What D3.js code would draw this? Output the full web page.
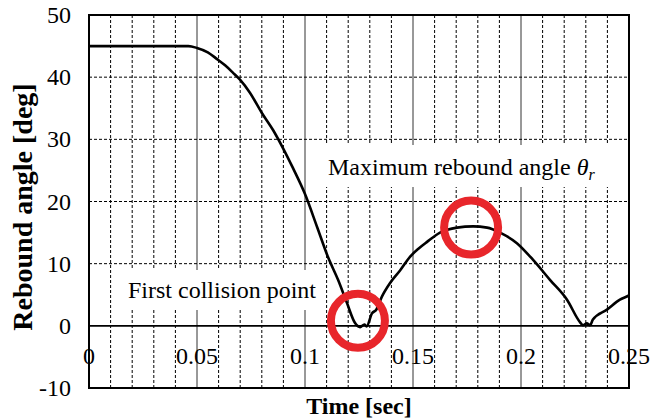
<!DOCTYPE html>
<html>
<head>
<meta charset="utf-8">
<script src="https://cdn.jsdelivr.net/npm/d3@7"></script>
<style>
  body { margin: 0; background: #fff; }
  svg text { font-family: "Liberation Serif", "Times New Roman", serif; }
</style>
</head>
<body>
<div id="main"></div>
<script>
var ctx = {
    w: 651,
    h: 419,
    left: 89,
    right: 629,
    top: 15,
    bottom: 388
};

// time [sec] and rebound angle [deg]
var times = [0, 0.02, 0.038, 0.042, 0.046, 0.050, 0.0550, 0.0593, 0.0630, 0.0667, 0.0699, 0.0745,
             0.0801, 0.0852, 0.0898, 0.0944, 0.1000, 0.1056, 0.1106, 0.1153,
             0.1194, 0.1231, 0.1255, 0.1275, 0.1285, 0.1310, 0.1330, 0.1356, 0.1394,
             0.1440, 0.1486, 0.1525, 0.1565, 0.1625, 0.1704, 0.1778, 0.1843, 0.1903,
             0.1981, 0.2056, 0.2134, 0.2213, 0.2273, 0.2287, 0.2305, 0.2319, 0.2333,
             0.2398, 0.2458, 0.2495, 0.2500];
var angles = [45, 45, 45, 45.0, 45.0, 44.7, 44.0, 42.9, 41.9, 40.7, 39.6, 37.5,
              34.2, 31.5, 28.6, 25.4, 21.2, 15.9, 11.1, 7.4,
              3.7, 0.5, -0.2, 0.2, -0.1, 2.0, 2.6, 4.7, 6.9,
              8.9, 11.1, 12.4, 13.5, 15.0, 15.8, 16.0, 15.8, 15.0,
              13.3, 10.6, 7.4, 4.2, 0.6, 0.1, 0.4, 0.1, 1.0,
              2.6, 4.2, 4.8, 4.9];

var xTicks = [0, 0.05, 0.1, 0.15, 0.2, 0.25];
var xTickLabels = ["0", "0.05", "0.1", "0.15", "0.2", "0.25"];
var yTicks = [-10, 0, 10, 20, 30, 40, 50];
var minorX = d3.range(1, 25).map(function(i){ return i / 100; });

// marked points: first collision and maximum rebound angle
var markT = [0.1245, 0.1769];
var markA = [0.8, 15.8];

var x = d3.scaleLinear().domain([0, 0.25]).range([ctx.left, ctx.right]);
var y = d3.scaleLinear().domain([-10, 50]).range([ctx.bottom, ctx.top]);

var svg = d3.select("#main").append("svg")
    .attr("width", ctx.w)
    .attr("height", ctx.h);

// dashed minor verticals
svg.append("g").selectAll("line")
    .data(minorX.filter(function(d){ return Math.round(d * 100) % 5 != 0; }))
    .enter().append("line")
    .attr("x1", function(d){ return x(d); })
    .attr("x2", function(d){ return x(d); })
    .attr("y1", ctx.top).attr("y2", ctx.bottom)
    .style("stroke", "#000").style("stroke-width", 1)
    .style("stroke-dasharray", "3,2");

// solid major verticals
svg.append("g").selectAll("line")
    .data([0.05, 0.1, 0.15, 0.2])
    .enter().append("line")
    .attr("x1", function(d){ return x(d); })
    .attr("x2", function(d){ return x(d); })
    .attr("y1", ctx.top).attr("y2", ctx.bottom)
    .style("stroke", "#333").style("stroke-width", 1);

// dashed horizontals
svg.append("g").selectAll("line")
    .data([10, 20, 30, 40])
    .enter().append("line")
    .attr("x1", ctx.left).attr("x2", ctx.right)
    .attr("y1", function(d){ return y(d); })
    .attr("y2", function(d){ return y(d); })
    .style("stroke", "#000").style("stroke-width", 1)
    .style("stroke-dasharray", "3,2");

// white boxes behind the annotations
svg.append("rect").attr("x", 322).attr("y", 145).attr("width", ctx.right - 322).attr("height", 42)
    .style("fill", "#fff");
svg.append("rect").attr("x", 114).attr("y", 270).attr("width", 208).attr("height", 40)
    .style("fill", "#fff");

// zero line
svg.append("line")
    .attr("x1", ctx.left).attr("x2", ctx.right)
    .attr("y1", y(0)).attr("y2", y(0))
    .style("stroke", "#000").style("stroke-width", 1.6);

// curve
var pts = times.map(function(t, i){ return [t, angles[i]]; });
var line = d3.line()
    .x(function(d){ return x(d[0]); })
    .y(function(d){ return y(d[1]); })
    .curve(d3.curveMonotoneX);
svg.append("path").datum(pts)
    .attr("d", line)
    .style("fill", "none").style("stroke", "#000").style("stroke-width", 2.6)
    .style("stroke-linejoin", "round");

// red circles
svg.append("g").selectAll("circle")
    .data(markT)
    .enter().append("circle")
    .attr("cx", function(d){ return x(d); })
    .attr("cy", function(d, i){ return y(markA[i]); })
    .attr("r", 27)
    .style("fill", "none").style("stroke", "#e8262b").style("stroke-width", 8);

// frame
svg.append("rect")
    .attr("x", ctx.left).attr("y", ctx.top)
    .attr("width", ctx.right - ctx.left).attr("height", ctx.bottom - ctx.top)
    .style("fill", "none").style("stroke", "#000").style("stroke-width", 2);

// tick labels
svg.append("g").selectAll("text")
    .data(yTicks)
    .enter().append("text")
    .attr("x", 71)
    .attr("y", function(d){ return y(d) + 8; })
    .attr("text-anchor", "end")
    .style("font-size", "24px")
    .text(function(d){ return d; });

svg.append("g").selectAll("text")
    .data(xTicks)
    .enter().append("text")
    .attr("x", function(d){ return x(d); })
    .attr("y", 364)
    .attr("text-anchor", "middle")
    .style("font-size", "24px")
    .text(function(d, i){ return xTickLabels[i]; });

// axis titles
svg.append("text")
    .attr("x", 359).attr("y", 414)
    .attr("text-anchor", "middle")
    .style("font-size", "24px").style("font-weight", "bold")
    .text("Time [sec]");

svg.append("text")
    .attr("transform", "translate(32,207) rotate(-90)")
    .attr("text-anchor", "middle")
    .style("font-size", "28px").style("font-weight", "bold")
    .text("Rebound angle [deg]");

// annotations
var ann = svg.append("text")
    .attr("x", 328).attr("y", 175)
    .style("font-size", "24px");
ann.append("tspan").text("Maximum rebound angle ");
ann.append("tspan").style("font-style", "italic").text("θ");
ann.append("tspan").style("font-style", "italic").style("font-size", "16px")
    .attr("dy", 5).text("r");

svg.append("text")
    .attr("x", 128).attr("y", 298)
    .style("font-size", "24px")
    .text("First collision point");
</script>
</body>
</html>
